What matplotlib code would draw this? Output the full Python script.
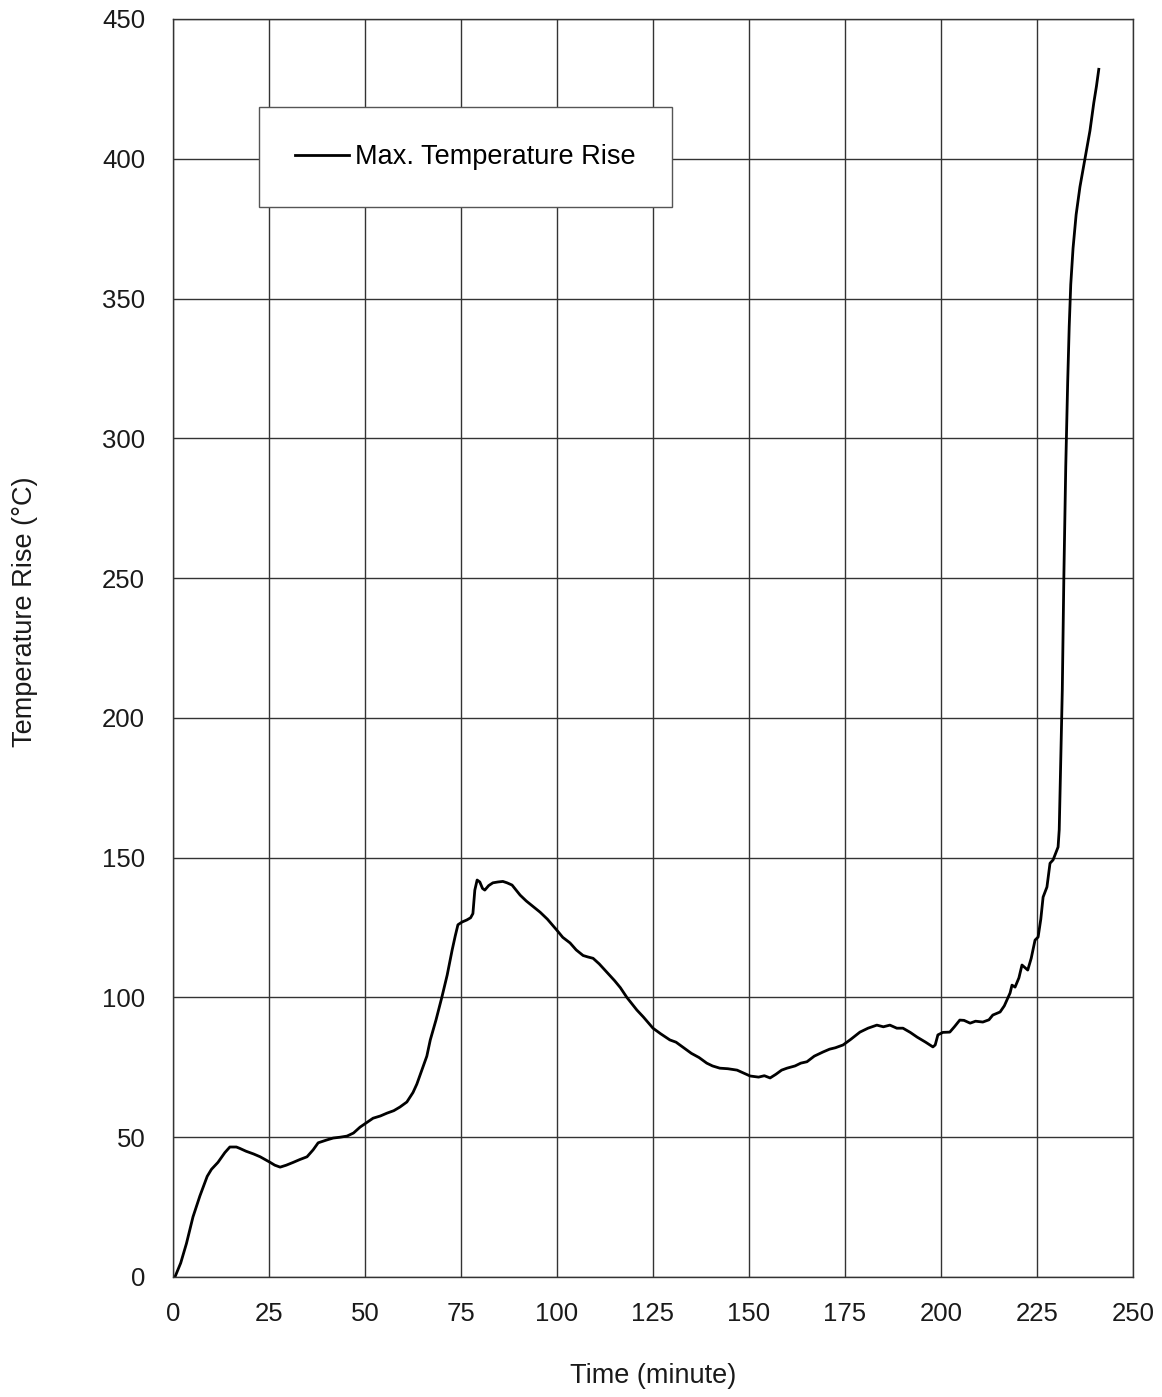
import numpy as np
from matplotlib import pyplot as plt

# (minute, deg C)
time_min = [0.5, 2, 3.5, 5.2, 7, 8.9, 10, 11.7, 13.5, 14.8, 16.5, 17.4, 19, 21,
	22.7, 24, 25.3, 26.5, 27.9, 29.5, 31.3, 33, 34.9, 36.5, 37.8, 40, 41.7, 43.5,
	45.3, 47, 48.7, 50.5, 52.1, 54, 55.7, 57.5, 59.1, 60.9, 62.5, 63.5, 64.8,
	66.1, 67, 68.5, 70, 71.4, 72.7, 73.5, 74.2, 75.3, 76.5, 77.5, 78.1, 78.6,
	79.2, 79.9, 80.6, 81.2, 82.2, 83.3, 84.6, 85.9, 87, 88.3, 89.3, 90.4, 92,
	93.8, 95.6, 97.5, 100, 101.5, 103.4, 105, 106.8, 108, 109.4, 111, 113, 115,
	116.5, 118.2, 120.8, 122.5, 125, 127, 129.4, 131, 132, 133.5, 135, 137, 139,
	140.5, 142.4, 144.5, 146.9, 148.5, 150.3, 152.5, 154, 155.5, 157, 158.5,
	159.9, 162, 163.5, 165.1, 167, 169.3, 171, 172.5, 174.5, 176.5, 178.9, 181,
	183.3, 185, 186.7, 188.5, 190.1, 192, 193.8, 196, 197.9, 198.5, 199.2, 200.5,
	202.3, 203.5, 204.9, 206, 207.6, 209, 210.9, 212.5, 213.5, 215.4, 216.5, 218,
	218.5, 219.3, 220.3, 221.1, 222, 222.6, 223.5, 224.5, 225.3, 226, 226.6,
	227.6, 228.4, 229.2, 230.2, 230.5, 230.8, 231.2, 231.6, 232, 232.5, 233,
	233.4, 233.8, 234.4, 235.2, 236.2, 237.5, 238.8, 239.8, 240.5, 241.1]
temp_rise = [0, 5, 12, 21.5, 29, 36, 38.5, 41, 44.5, 46.5, 46.5, 46, 45, 44,
	43, 42, 41, 40, 39.3, 40, 41, 42, 43, 45.5, 48, 49, 49.7, 50, 50.4, 51.5,
	53.6, 55.3, 56.8, 57.6, 58.6, 59.5, 60.8, 62.6, 66, 69, 74, 79, 84.8, 92,
	100, 108, 117, 122, 126, 127, 127.7, 128.5, 130, 138.4, 142, 141.3, 139,
	138.4, 140, 141, 141.3, 141.5, 141, 140.2, 138.5, 136.6, 134.5, 132.5, 130.5,
	128, 124, 121.5, 119.5, 117, 115, 114.5, 114, 112, 109, 106, 103.5, 100,
	95.5, 93, 89, 87, 84.8, 84, 83, 81.5, 80, 78.5, 76.5, 75.5, 74.7, 74.5, 74,
	73, 71.9, 71.5, 72, 71.2, 72.5, 74, 74.7, 75.5, 76.5, 77, 79, 80.5, 81.5, 82,
	83, 85, 87.6, 89, 90.1, 89.5, 90.1, 89, 89, 87.5, 85.8, 84, 82.3, 83, 86.6,
	87.5, 87.6, 89.5, 91.9, 91.8, 90.8, 91.5, 91.2, 92, 93.7, 94.8, 97, 101.6,
	104.4, 103.7, 107, 111.6, 110.5, 109.8, 114, 120.5, 121.6, 128, 135.9, 139.5,
	148, 149.2, 152.7, 153.8, 160, 185, 210, 250, 290, 320, 340, 355, 368, 380,
	390, 400, 410, 420, 426, 432]

xticks = np.arange(0, 251, 25)
yticks = np.arange(0, 451, 50)

plt.rcParams['font.family'] = ['Liberation Sans', 'DejaVu Sans']

fig = plt.figure(figsize=(11.62, 13.97), dpi=100)
ax = fig.add_axes([0.1489, 0.0859, 0.8261, 0.9005])

ax.plot(time_min, temp_rise, '-', color='black', lw=2.0, label='Max. Temperature Rise')

ax.set_xlim(0, 250)
ax.set_ylim(0, 450)
ax.set_xticks(xticks)
ax.set_yticks(yticks)
ax.tick_params(length=0, labelsize=18.5, colors='#1a1a1a')
ax.tick_params(axis='x', pad=18)
ax.tick_params(axis='y', pad=20)
ax.grid(True, color='#333333', lw=1)
for s in ax.spines.values():
	s.set_color('#333333')
	s.set_linewidth(1)

ax.set_xlabel('Time (minute)', fontsize=19.5, color='#1a1a1a', va='top')
ax.xaxis.set_label_coords(0.5, -0.068)
ax.set_ylabel('Temperature Rise (°C)', fontsize=19.5, color='#1a1a1a')
ax.yaxis.set_label_coords(-0.1406, 0.5286)

leg = ax.legend(loc='center', bbox_to_anchor=(0.3047, 0.8903), fontsize=19.5,
	frameon=True, fancybox=False, framealpha=1, edgecolor='#555555',
	borderpad=1.35, handlelength=2.0, handletextpad=0.22, borderaxespad=0)
leg.get_frame().set_linewidth(1)

fig.savefig('out.png', dpi=100)
